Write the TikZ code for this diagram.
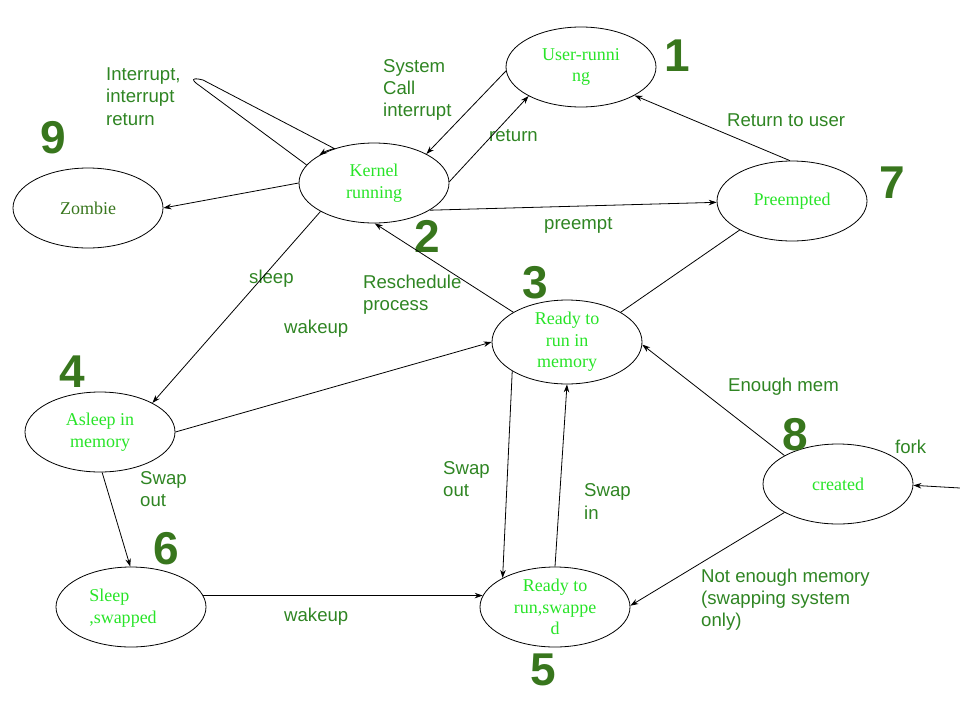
\documentclass[tikz,border=0pt]{standalone}
\usepackage{fontspec}
\setmainfont{Liberation Serif}
\newfontfamily\labfont{Liberation Sans}
\usetikzlibrary{shapes.geometric,arrows.meta}
\definecolor{nodegreen}{RGB}{40,228,40}
\definecolor{labgreen}{RGB}{47,133,35}
\definecolor{numgreen}{HTML}{38761D}
\tikzset{
  state/.style={draw, ellipse, line width=0.8pt, minimum width=150pt, minimum height=80pt,
    inner sep=0pt, align=center, text=nodegreen, font=\fontsize{18}{21.5}\selectfont},
  lab/.style={anchor=west, inner sep=0pt, align=left, text=labgreen,
    font=\labfont\fontsize{18.6}{22.2}\selectfont},
  num/.style={inner sep=0pt, text=numgreen, font=\labfont\bfseries\fontsize{46}{46}\selectfont},
  conn/.style={line width=0.8pt, -{Stealth[length=8pt,width=5.5pt]}},
  plain/.style={line width=0.8pt}
}
\begin{document}
\begin{tikzpicture}[x=1pt,y=-1pt]
\useasboundingbox (0,0) rectangle (960,720);
% states
\node[state] (u) at (581,67) {User-runni\\ng};
\node[state] (k) at (374,183) {Kernel\\running};
\node[state, text=numgreen] (z) at (88,208) {Zombie};
\node[state] (p) at (792,201) {Preempted};
\node[state] (r) at (567,342) {Ready to\\run in\\memory};
\node[state] (rs) at (555,607) {Ready to\\run,swappe\\d};
\node[state] (a) at (100,432) {Asleep in\\memory};
\node[state] (s) at (131,607) {};
\node[anchor=center, inner sep=0pt, align=left, text=nodegreen, font=\fontsize{18}{21.5}\selectfont] (st) at (123,608) {Sleep\\,swapped};
\node[state] (c) at (838,484) {created};
% numbers
\node[num] (n1) at (677,56) {1};
\node[num] (n2) at (427,236) {2};
\node[num] (n3) at (535,283) {3};
\node[num] (n4) at (72,372) {4};
\node[num] (n5) at (543,670) {5};
\node[num] (n6) at (166,549) {6};
\node[num] (n7) at (892,183) {7};
\node[num] (n8) at (795,435) {8};
\node[num] (n9) at (53,138) {9};
% labels
\node[lab] (lint) at (106,96.5) {Interrupt,\\interrupt\\return};
\node[lab] (lsys) at (383,90) {System\\Call\\interrupt};
\node[lab] (lret) at (489,136) {return};
\node[lab] (lrtu) at (727,120) {Return to user};
\node[lab] (lpre) at (544,225) {preempt};
\node[lab] (lres) at (363,295) {Reschedule\\process};
\node[lab] (lslp) at (249,279) {sleep};
\node[lab] (lwk1) at (284,329) {wakeup};
\node[lab] (lso1) at (140,489) {Swap\\out};
\node[lab] (lwk2) at (284,617) {wakeup};
\node[lab] (lso2) at (443,479) {Swap\\out};
\node[lab] (lsi) at (584,501.5) {Swap\\in};
\node[lab] (lenm) at (728,387) {Enough mem};
\node[lab] (lfork) at (895,447) {fork};
\node[lab] (lnem) at (701,599.5) {Not enough memory\\(swapping system\\only)};
% connectors
\draw[conn] (u.183) -- (k.29);
\draw[conn] (k.1) -- (u.209);
\draw[conn] (p.93) -- (u.332);
\draw[conn] (k.334) -- (p.181);
\draw[conn] (r.151) -- (k.271);
\draw[plain] (p.209) -- (r.29);
\draw[conn] (k.180) -- (z.0);
\coordinate (tip) at (197,82);
\draw[conn] (k.165) -- (200,86) .. controls (191,80) and (191,77) .. (203,80) -- (k.139) .. controls (328,150) and (324,152) .. (k.153);
\draw[conn] (k.208) -- (a.29);
\draw[conn] (a.0) -- (r.180);
\draw[conn] (a.273) -- (s.91);
\draw[conn] (s.9) -- (rs.171);
\draw[conn] (r.208) -- (rs.151);
\draw[conn] (rs.90) -- (r.270);
\draw[conn] (c.152) -- (r.358);
\draw[conn] (c.208) -- (rs.1);
\coordinate (forkin) at (960,488);
\draw[conn] (forkin) -- (c.359);
\end{tikzpicture}
\end{document}
